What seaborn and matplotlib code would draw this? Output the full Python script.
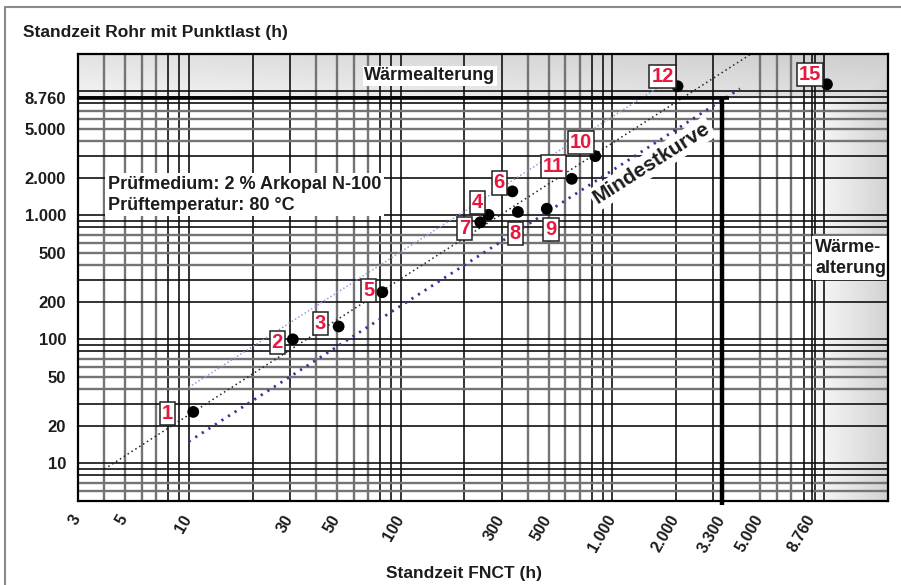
import numpy as np
import matplotlib
matplotlib.use("Agg")
import matplotlib.pyplot as plt
import matplotlib.transforms as mtransforms
from matplotlib.lines import Line2D
from matplotlib.ticker import NullLocator
import seaborn as sns

# ---------------- data ----------------
point_ids = ["1", "2", "3", "4", "5", "6", "7", "8", "9", "10", "11", "12", "15"]
fnct_hours = [10.5, 31, 51, 260, 82, 337, 238, 358, 490, 830, 643, 2030, 10300]
pipe_hours = [26, 100, 127, 1010, 240, 1560, 880, 1065, 1130, 3000, 1970, 11000, 11400]

# label box offsets (pixels) relative to the points
label_dx = [-26, -15.7, -18.3, -11, -13.6, -13, -15.6, -2.7, 4.3, -14, -18, -15, -17]
label_dy = [-2, -3.3, 3, 12.3, 1.8, 8.4, -6.6, -22, -20.7, 14, 12.6, 9.4, 10]

fit_x = [4, 4510]
fit_y = [9, 20000]
upper_x = [10, 1650]
upper_y = [41, 10800]
min_x = [10, 4000]
min_y = [15, 10500]

limit_fnct = 3300
limit_pipe = 8760

x_ticks = [3, 5, 10, 30, 50, 100, 300, 500, 1000, 2000, 3300, 5000, 8760]
x_tick_labels = ["3", "5", "10", "30", "50", "100", "300", "500", "1.000",
                 "2.000", "3.300", "5.000", "8.760"]
y_ticks = [10, 20, 50, 100, 200, 500, 1000, 2000, 5000, 8760]
y_tick_labels = ["10", "20", "50", "100", "200", "500", "1.000", "2.000",
                 "5.000", "8.760"]

x_lim = (3, 20000)
y_lim = (5, 20000)

# ---------------- style ----------------
sns.set_style("white")
plt.rcParams['font.family'] = ['Liberation Sans', 'DejaVu Sans']
plt.rcParams['font.weight'] = 'bold'
TXT = '#1c1c1c'
RED = '#e8173f'

fig = plt.figure(figsize=(9.01, 5.85), dpi=100)
pos = [78 / 901, 1 - 500.7 / 585, 810 / 901, 446.7 / 585]

# gradient background (grey bands)
xf0 = np.log10(limit_pipe / x_lim[0]) / np.log10(x_lim[1] / x_lim[0])
yf0 = np.log10(limit_pipe / y_lim[0]) / np.log10(y_lim[1] / y_lim[0])
n = 500
u = np.linspace(0, 1, n)
U, V = np.meshgrid(u, u)
ty = np.clip((V - yf0) / (1 - yf0), 0, 1)
tx = np.clip((U - xf0) / (1 - xf0), 0, 1)
top = np.where(V > yf0, 0.955 - 0.07 * ty - 0.08 * U, 1.0)
right = np.where(U > xf0, 0.985 - 0.16 * tx, 1.0)
img = np.minimum(top, right)
bg = fig.add_axes(pos, zorder=0)
bg.imshow(img, extent=[0, 1, 0, 1], origin='lower', aspect='auto',
          cmap='gray', vmin=0, vmax=1, interpolation='bilinear')
bg.axis('off')

ax = fig.add_axes(pos, zorder=1)
ax.patch.set_alpha(0)
ax.set_xscale('log')
ax.set_yscale('log')
ax.set_xlim(*x_lim)
ax.set_ylim(*y_lim)

# grid lines
def grid_vals(lo, hi, skip=()):
    vals = []
    for dec in [1, 10, 100, 1000, 10000]:
        for m in range(1, 10):
            v = m * dec
            if lo <= v <= hi and v not in skip:
                vals.append((v, m))
    return vals

for v, m in grid_vals(4, 10000, skip=(4000,)):
    dark = m in (1, 2, 3, 8, 9)
    ax.axvline(v, color='#111111' if dark else '#747474',
               lw=1.2 if dark else 1.7, zorder=1)
for v, m in grid_vals(6, 10000):
    dark = m in (1, 2, 3, 8, 9)
    ax.axhline(v, color='#111111' if dark else '#747474',
               lw=1.2 if dark else 1.7, zorder=1)
ax.axvline(limit_pipe, color='#111111', lw=1.2, zorder=1)

# thick limit lines
ax.hlines(limit_pipe, x_lim[0], limit_fnct * 1.08, color='black', lw=2.6, zorder=3)
ax.vlines(limit_fnct, y_lim[0] * 0.93, limit_pipe, color='black', lw=3.2,
          zorder=3, clip_on=False)

# trend lines
sns.lineplot(x=fit_x, y=fit_y, ax=ax, color='#222222', lw=1.1,
             linestyle=(0, (1, 2.0)), zorder=2)
sns.lineplot(x=upper_x, y=upper_y, ax=ax, color='#9a9ae0', lw=1.1,
             linestyle=(0, (1, 1.5)), zorder=2)
sns.lineplot(x=min_x, y=min_y, ax=ax, color='#35359a', lw=2.0,
             linestyle=(0, (0.8, 2.0)), zorder=2)

# points
sns.scatterplot(x=fnct_hours, y=pipe_hours, ax=ax, s=72, color='black',
                edgecolor='none', zorder=5, legend=False)

for pid, xv, yv, dx, dy in zip(point_ids, fnct_hours, pipe_hours, label_dx, label_dy):
    ax.annotate(pid, xy=(xv, yv), xytext=(dx, dy), textcoords='offset pixels',
                ha='center', va='center', color=RED, fontsize=14.5,
                fontweight='bold', zorder=6,
                bbox=dict(boxstyle='square,pad=0.1', fc='white', ec='#222222', lw=1.1))

# Mindestkurve label rotated along line
p0 = ax.transData.transform((min_x[0], min_y[0]))
p1 = ax.transData.transform((min_x[1], min_y[1]))
ang = np.degrees(np.arctan2(p1[1] - p0[1], p1[0] - p0[0]))
ax.text(1535, 2619, 'Mindestkurve', rotation=ang, rotation_mode='anchor',
        ha='center', va='center', fontsize=15, fontweight='bold', color=TXT,
        zorder=4, bbox=dict(boxstyle='square,pad=0.12', fc='white', ec='none'))

# text boxes
ax.text(0.4346, 0.9508, 'Wärmealterung', transform=ax.transAxes, ha='center',
        va='center', fontsize=13, fontweight='bold', color=TXT, zorder=4,
        bbox=dict(boxstyle='square,pad=0.1', fc='white', ec='none'))
ax.text(0.0367, 0.685, 'Prüfmedium: 2 % Arkopal N-100\nPrüftemperatur: 80 °C',
        transform=ax.transAxes, ha='left', va='center', fontsize=13,
        fontweight='bold', color=TXT, linespacing=1.3, zorder=4,
        bbox=dict(boxstyle='square,pad=0.15', fc='white', ec='none'))
ax.text(0.9099, 0.5433, 'Wärme-\nalterung', transform=ax.transAxes, ha='left',
        va='center', fontsize=13, fontweight='bold', color=TXT, linespacing=1.3,
        zorder=4, bbox=dict(boxstyle='square,pad=0.15', fc='white', ec='none'))

# ticks
ax.xaxis.set_minor_locator(NullLocator())
ax.yaxis.set_minor_locator(NullLocator())
ax.set_xticks(x_ticks)
ax.set_xticklabels(x_tick_labels, rotation=60, ha='right', va='top',
                   fontsize=11.5, fontweight='bold', color=TXT)
ax.set_yticks(y_ticks)
ax.set_yticklabels(y_tick_labels, fontsize=12, fontweight='bold', color=TXT)
ax.tick_params(axis='x', length=0, pad=8.6)
ax.tick_params(axis='y', direction='in', length=7.2, width=1.5, pad=8.6, color='black')
shift = mtransforms.ScaledTranslation(6 / 100, 0, fig.dpi_scale_trans)
for lbl in ax.get_xticklabels():
    lbl.set_transform(lbl.get_transform() + shift)

for sp in ax.spines.values():
    sp.set_visible(True)
    sp.set_color('black')
    sp.set_linewidth(1.6)
    sp.set_zorder(4)

# titles
fig.text(0.0255, 0.9436, 'Standzeit Rohr mit Punktlast (h)', ha='left', va='center',
         fontsize=12.5, fontweight='bold', color=TXT)
fig.text(0.515, 0.0205, 'Standzeit FNCT (h)', ha='center', va='center',
         fontsize=12.5, fontweight='bold', color=TXT)

# outer frame (top and left)
fig.add_artist(Line2D([0.0052, 1.0], [0.9875, 0.9875], transform=fig.transFigure,
                      color='#8a8a8a', lw=1.5))
fig.add_artist(Line2D([0.0052, 0.0052], [0.0, 0.9875], transform=fig.transFigure,
                      color='#8a8a8a', lw=1.5))

fig.savefig('out.png', dpi=100)
